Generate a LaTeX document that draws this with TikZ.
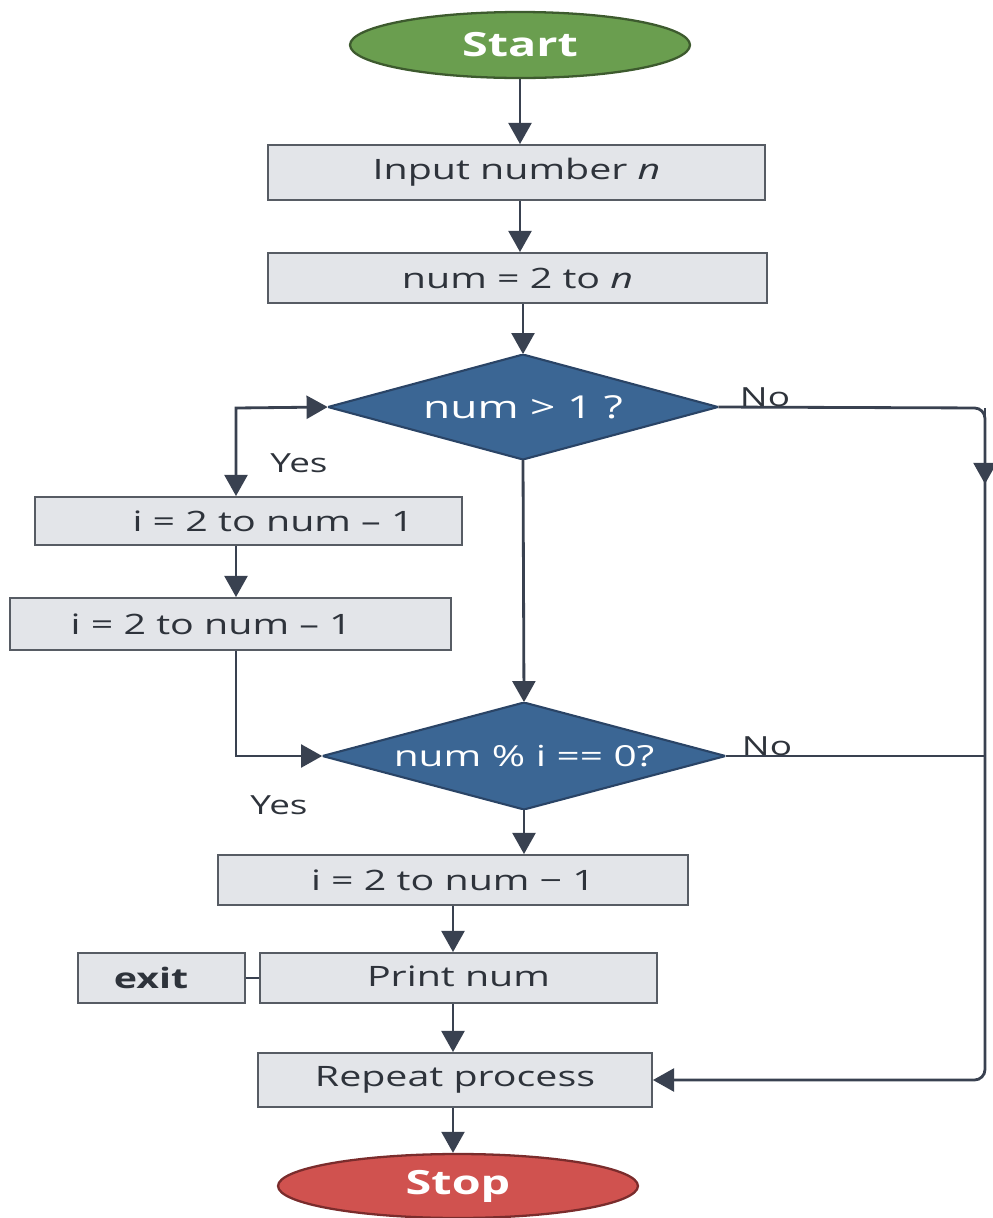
\documentclass[tikz,border=0pt]{standalone}
\usepackage{fontspec}
\setmainfont{Open Sans}
\usetikzlibrary{shapes.geometric,arrows.meta}
\definecolor{linec}{HTML}{394150}
\definecolor{boxfill}{HTML}{E3E5E9}
\definecolor{boxline}{HTML}{575C64}
\definecolor{diafill}{HTML}{3B6694}
\definecolor{dialine}{HTML}{2A4466}
\definecolor{startfill}{HTML}{6A9E4F}
\definecolor{startline}{HTML}{3D5A2E}
\definecolor{stopfill}{HTML}{D0524F}
\definecolor{stopline}{HTML}{7A2C2C}
\definecolor{textc}{HTML}{2E333B}
% widened lettering used throughout the chart
\newcommand\wtxt[1]{\scalebox{1.4}[1]{#1}}
\begin{document}
\begin{tikzpicture}[x=0.02cm,y=-0.02cm,
  procbox/.style={rectangle, draw=boxline, fill=boxfill, line width=1.1pt,
    inner sep=0pt, text=textc, font=\fontsize{16}{19}\selectfont},
  % decision: rectangular node whose box is filled with a rhombus
  decide/.style={rectangle, inner sep=0pt, text=white,
    font=\fontsize{16.5}{19}\selectfont,
    path picture={\draw[draw=dialine, fill=diafill, line width=1.2pt]
      (path picture bounding box.north) -- (path picture bounding box.east)
      -- (path picture bounding box.south) -- (path picture bounding box.west)
      -- cycle;}},
  term/.style={ellipse, line width=1.3pt, inner sep=0pt, text=white,
    font=\fontsize{19}{22}\selectfont\bfseries},
  lbl/.style={text=textc, font=\fontsize{15}{18}\selectfont},
  conn/.style={draw=linec, line width=1.6pt},
  arr/.style={conn, -{Triangle[width=13pt,length=12pt]}},
  darr/.style={conn, {Triangle[width=13pt,length=12pt]}-{Triangle[width=13pt,length=12pt]}}]
\useasboundingbox (0,0) rectangle (993,1218);

% terminals
\node[term, draw=startline, fill=startfill, minimum width=6.8cm, minimum height=1.32cm]
  (start) at (520,45) {\wtxt{Start}};
\node[term, draw=stopline, fill=stopfill, minimum width=7.2cm, minimum height=1.28cm]
  (stop) at (458,1186) {\wtxt{Stop}};

% process boxes
\node[procbox, minimum width=9.94cm, minimum height=1.1cm] (inp) at (516.5,172.5)
  {\wtxt{Input number \textit{n}}};
\node[procbox, minimum width=9.98cm, minimum height=1.0cm] (rng) at (517.5,278)
  {\wtxt{num = 2 to \textit{n}}};
\node[procbox, minimum width=8.54cm, minimum height=0.96cm] (b1) at (248.5,521)
  {\hspace*{28pt}\wtxt{i = 2 to num – 1}};
\node[procbox, minimum width=8.82cm, minimum height=1.04cm] (b2) at (230.5,624)
  {\wtxt{i = 2 to num – 1}\hspace*{22pt}};
\node[procbox, minimum width=9.4cm, minimum height=1.0cm] (b3) at (453,880)
  {\wtxt{i = 2 to num − 1}};
\node[procbox, minimum width=7.94cm, minimum height=1.0cm] (prt) at (458.5,978)
  {\raisebox{2pt}{\wtxt{Print num}}};
\node[procbox, minimum width=3.34cm, minimum height=1.0cm, font=\fontsize{16}{19}\selectfont\bfseries]
  (ext) at (161.5,978) {\wtxt{exit}\hspace*{12pt}};
\node[procbox, minimum width=7.88cm, minimum height=1.08cm] (rep) at (455,1080)
  {\wtxt{Repeat process}};

% decisions
\node[decide, minimum width=7.8cm, minimum height=2.1cm, font=\fontsize{18}{21}\selectfont]
  (d1) at (523,407) {\wtxt{num > 1 ?}};
\node[decide, minimum width=8.06cm, minimum height=2.14cm] (d2) at (524,756)
  {\wtxt{num \% i == 0?}};

% helper points for the side routes
\coordinate (lt) at (236,408);
\coordinate (ne) at (985,408);
\coordinate (mr) at (985,484);

% main spine
\draw[arr] (start.south) -- (start.south |- inp.north);
\draw[arr] (inp.south -| start.south) -- (rng.north -| start.south);
\draw[arr] (d1.north |- rng.south) -- (d1.north);
\draw[arr] (d1.south) -- (d2.north);
\draw[arr] (d2.south) -- (d2.south |- b3.north);
\draw[arr] (b3.south) -- (b3.south |- prt.north);
\draw[arr] (b3.south |- prt.south) -- (b3.south |- rep.north);
\draw[arr] (b3.south |- rep.south) -- (b3.south |- stop.north);

% left loop
\draw[darr] (d1.west) -- (lt) -- (lt |- b1.north);
\draw[arr] (lt |- b1.south) -- (lt |- b2.north);
\draw[arr] (lt |- b2.south) -- (lt |- d2.west) -- (d2.west);

% right return route
\draw[arr, rounded corners=6pt] (d1.east) -- (ne) -- (ne |- rep.east) -- (rep.east);
\draw[arr] (ne) -- (mr);
\draw[conn] (d2.east) -- (d2.east -| ne);

% exit link
\draw[conn, line width=1.1pt] (ext.east) -- (prt.west);

% branch labels
\node[lbl] (yes1) at (299,463) {\wtxt{Yes}};
\node[lbl] (no1) at (765,397) {\wtxt{No}};
\node[lbl] (no2) at (767,746) {\wtxt{No}};
\node[lbl] (yes2) at (279,805) {\wtxt{Yes}};
\end{tikzpicture}
\end{document}
